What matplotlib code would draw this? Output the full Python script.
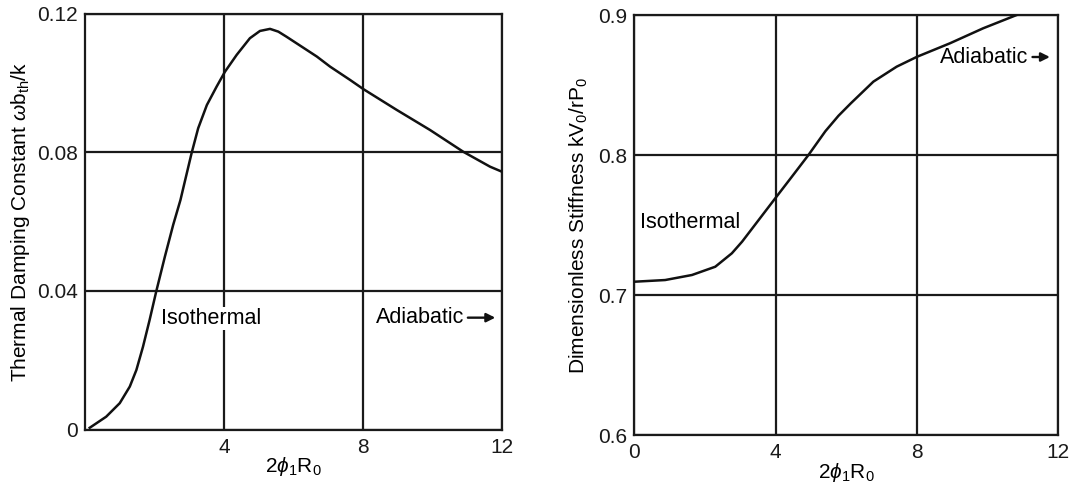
import matplotlib
matplotlib.use("Agg")
import matplotlib.pyplot as plt

plt.rcParams['font.family'] = ['Liberation Sans', 'DejaVu Sans']
plt.rcParams['mathtext.fontset'] = 'custom'
plt.rcParams['mathtext.rm'] = 'Liberation Sans'
plt.rcParams['mathtext.it'] = 'Liberation Sans:italic'
plt.rcParams['mathtext.default'] = 'regular'

# Left panel: thermal damping constant
damp_x = [0.135, 0.61, 1.0, 1.29, 1.48, 1.67, 1.86, 2.05, 2.30, 2.54, 2.75,
          2.83, 3.07, 3.26, 3.51, 3.79, 4.03, 4.37, 4.75, 5.04, 5.33, 5.57,
          5.81, 6.68, 7.06, 7.63, 8.02, 8.98, 9.94, 10.90, 11.67, 12.0]
damp_y = [0.0005, 0.0037, 0.0076, 0.0124, 0.0172, 0.0239, 0.0316, 0.0398,
          0.0499, 0.0591, 0.0663, 0.0697, 0.0798, 0.0870, 0.0937, 0.0990,
          0.1033, 0.1082, 0.1130, 0.1151, 0.1157, 0.1149, 0.1134, 0.1077,
          0.1048, 0.1010, 0.0983, 0.0923, 0.0865, 0.0802, 0.0759, 0.0745]

# Right panel: dimensionless stiffness
stiff_x = [0.0, 0.87, 1.63, 2.29, 2.76, 3.05, 3.52, 3.99, 4.46, 4.93, 5.41,
           5.78, 6.13, 6.77, 7.43, 8.01, 8.94, 9.88, 10.83]
stiff_y = [0.7095, 0.7107, 0.7143, 0.7202, 0.7298, 0.7381, 0.7536, 0.7691,
           0.7845, 0.8000, 0.8170, 0.8280, 0.8369, 0.8524, 0.8631, 0.8702,
           0.8798, 0.8905, 0.9000]

left_xticks = [4, 8, 12]
left_yticks = [0, 0.04, 0.08, 0.12]
left_yticklabels = ['0', '0.04', '0.08', '0.12']
right_xticks = [0, 4, 8, 12]
right_yticks = [0.6, 0.7, 0.8, 0.9]
right_yticklabels = ['0.6', '0.7', '0.8', '0.9']

FS = 15
AFS = 15.5
LW = 1.6

fig = plt.figure(figsize=(10.79, 4.84), dpi=100)
ax1 = fig.add_axes([0.0788, 0.1126, 0.3860, 0.8585])
ax2 = fig.add_axes([0.5880, 0.1012, 0.3925, 0.8678])


def style(ax, xticks, yticks, yticklabels):
    for s in ax.spines.values():
        s.set_linewidth(LW)
        s.set_color('#1a1a1a')
    ax.set_xticks(xticks)
    ax.set_xticklabels([str(t) for t in xticks])
    ax.set_yticks(yticks)
    ax.set_yticklabels(yticklabels)
    ax.tick_params(length=0, labelsize=FS, pad=5, colors='#1a1a1a')
    ax.tick_params(axis='x', pad=6)
    ax.grid(True, color='#1a1a1a', linewidth=LW)
    ax.set_axisbelow(True)


# Left
ax1.plot(damp_x, damp_y, color='#111111', linewidth=1.8, zorder=3)
ax1.set_xlim(0, 12)
ax1.set_ylim(0, 0.12)
style(ax1, left_xticks, left_yticks, left_yticklabels)
ax1.set_xlabel(r'2$\it{\phi}_1$R$_0$', fontsize=FS, labelpad=-1)
ax1.set_ylabel(r'Thermal Damping Constant $\it{\omega}$b$_{th}$/k', fontsize=FS, labelpad=4)
ax1.text(2.2, 0.0321, 'Isothermal', fontsize=AFS, va='center', ha='left',
         bbox=dict(facecolor='white', edgecolor='none', pad=1), zorder=4)
ax1.text(8.37, 0.0323, 'Adiabatic', fontsize=AFS, va='center', ha='left', zorder=4)
ax1.annotate('', xy=(11.9, 0.0323), xytext=(10.95, 0.0323),
             arrowprops=dict(arrowstyle='-|>', color='#111111', lw=1.7,
                             mutation_scale=13), zorder=4)

# Right
ax2.plot(stiff_x, stiff_y, color='#111111', linewidth=1.8, zorder=3)
ax2.set_xlim(0, 12)
ax2.set_ylim(0.6, 0.9)
style(ax2, right_xticks, right_yticks, right_yticklabels)
ax2.set_xlabel(r'2$\it{\phi}_1$R$_0$', fontsize=FS, labelpad=-1)
ax2.set_ylabel(r'Dimensionless Stiffness kV$_0$/rP$_0$', fontsize=FS, labelpad=6)
ax2.text(0.16, 0.7516, 'Isothermal', fontsize=AFS, va='center', ha='left', zorder=4)
ax2.text(8.65, 0.870, 'Adiabatic', fontsize=AFS, va='center', ha='left', zorder=4)
ax2.annotate('', xy=(11.85, 0.870), xytext=(11.2, 0.870),
             arrowprops=dict(arrowstyle='-|>', color='#111111', lw=1.7,
                             mutation_scale=13), zorder=4)

fig.savefig('out.png', dpi=100, facecolor='white')
